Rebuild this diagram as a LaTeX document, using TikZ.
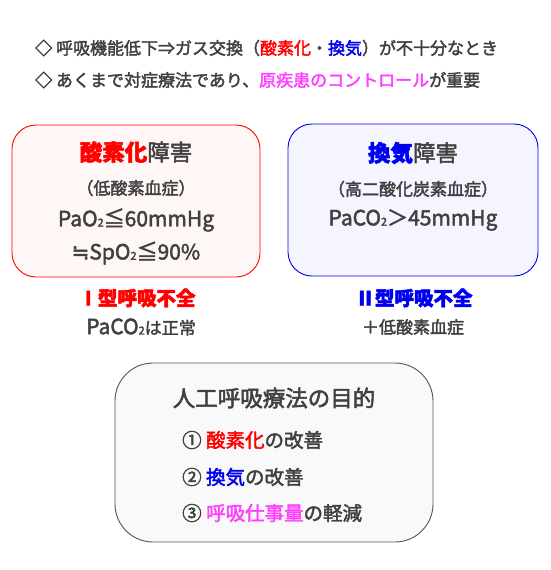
\documentclass[tikz,border=0pt]{standalone}
\usepackage{fontspec}
\setmainfont{Noto Sans CJK JP}[FakeBold=2.2]
\newfontfamily\symfont{DejaVu Sans}[FakeBold=2.2]
\definecolor{txt}{HTML}{404040}
\definecolor{myred}{HTML}{FF0000}
\definecolor{myblue}{HTML}{0000F0}
\definecolor{mymag}{HTML}{FF40FF}
\definecolor{pinkfill}{HTML}{FFF6F6}
\definecolor{bluefill}{HTML}{F5F5FF}
\definecolor{grayfill}{HTML}{F9F9F9}
\definecolor{grayline}{HTML}{555555}
\newcommand{\subtwo}{\raisebox{-0.3pt}{\fontsize{11}{11}\selectfont 2}}
\newcommand{\La}[1]{{\fontsize{21}{24}\selectfont #1}}
\newcommand{\Rd}[1]{\textcolor{myred}{#1}}
\newcommand{\Bl}[1]{\textcolor{myblue}{#1}}
\newcommand{\Mg}[1]{\textcolor{mymag}{#1}}
\begin{document}
\begin{tikzpicture}[x=1pt,y=-1pt,
  txtnode/.style={inner sep=0pt,text=txt,font=\fontsize{17}{20}\selectfont},
  titlenode/.style={inner sep=0pt,text=txt,font=\fontsize{22.5}{26}\selectfont},
  typenode/.style={inner sep=0pt,font=\fontsize{19.5}{22}\selectfont\bfseries},
  itemnode/.style={inner sep=0pt,text=txt,anchor=west,font=\fontsize{19.5}{22}\selectfont},
  panel/.style={line width=0.9pt}]
\useasboundingbox (0,0) rectangle (550,570);
\fill[white] (0,0) rectangle (550,570);
% header lines
\node[txtnode,anchor=west] (h1) at (35,48) {◇ 呼吸機能低下⇒ガス交換（\Rd{酸素化}・\Bl{換気}）が不十分なとき};
\node[txtnode,anchor=west] (h2) at (35,80) {◇ あくまで対症療法であり、\Mg{原疾患のコントロール}が重要};
% left box
\draw[panel,draw=myred,fill=pinkfill,rounded corners=24pt] (12,125) rectangle (260,277);
\node[titlenode] (lt) at (136,152) {\Rd{\bfseries 酸素化}障害};
\node[txtnode] (l1) at (136,188) {（低酸素血症）};
\node[txtnode] (l2) at (136,220) {\La{PaO\subtwo≦60mmHg}};
\node[txtnode] (l3) at (136,253) {\La{{\symfont ≒}SpO\subtwo≦90\%}};
\node[typenode,text=myred] (lty) at (137,298) {Ⅰ型呼吸不全};
\node[txtnode] (lsub) at (141,327) {\La{PaCO\subtwo}は正常};
% right box
\draw[panel,draw=myblue,fill=bluefill,rounded corners=24pt] (288,124) rectangle (538,276);
\node[titlenode] (rt) at (413,153) {\Bl{\bfseries 換気}障害};
\node[txtnode] (r1) at (413,189) {（高二酸化炭素血症）};
\node[txtnode] (r2) at (413,220) {\La{PaCO\subtwo＞45mmHg}};
\node[typenode,text=myblue] (rty) at (414,298) {Ⅱ型呼吸不全};
\node[txtnode] (rsub) at (413,327) {＋低酸素血症};
% bottom box
\draw[panel,draw=grayline,fill=grayfill,rounded corners=38pt] (115,363) rectangle (433,542);
\node[titlenode] (bt) at (274,398) {人工呼吸療法の目的};
\node[itemnode] (b1) at (182,440) {① \Rd{酸素化}の改善};
\node[itemnode] (b2) at (182,477) {② \Bl{換気}の改善};
\node[itemnode] (b3) at (182,513) {③ \Mg{呼吸仕事量}の軽減};
\end{tikzpicture}
\end{document}
